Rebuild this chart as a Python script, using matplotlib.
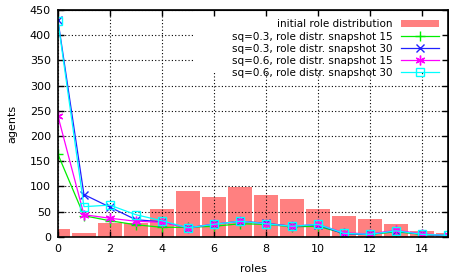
import matplotlib
matplotlib.use('Agg')
from matplotlib import pyplot as plt
from matplotlib.patches import Rectangle

# data
roles = list(range(16))
initial = [16, 8, 28, 27, 55, 91, 79, 99, 83, 75, 55, 41, 36, 26, 12, 8]
sq03_s15 = [164, 42, 32, 24, 19, 19, 21, 26, 25, 20, 21, 7, 5, 10, 5, 3]
sq03_s30 = [430, 84, 59, 34, 30, 18, 25, 31, 27, 21, 24, 6, 5, 12, 5, 2]
sq06_s15 = [240, 44, 37, 31, 29, 18, 25, 31, 26, 21, 25, 8, 6, 13, 6, 3]
sq06_s30 = [428, 60, 63, 44, 32, 18, 25, 31, 26, 21, 25, 7, 5, 12, 5, 3]

plt.rcParams['font.size'] = 8

f = plt.figure(figsize=(4.49, 2.8), dpi=100)
ax = f.add_axes([0.129, 0.154, 0.869, 0.81])
ax.set_axisbelow(False)

ax.bar(roles, initial, width=0.95, color='#ff8080', lw=0,
       label='initial role distribution', zorder=1)
ax.plot(roles, sq03_s15, color='#00ee00', marker='+', ms=7, mew=1, lw=0.9,
        label='sq=0.3, role distr. snapshot 15', zorder=3)
ax.plot(roles, sq03_s30, color='#2020ff', marker='x', ms=5.5, mew=1, lw=0.9,
        label='sq=0.3, role distr. snapshot 30', zorder=3)
ax.plot(roles, sq06_s15, color='#ff00ff', marker=(6, 2, 0), ms=7, mew=1,
        lw=0.9, label='sq=0.6, role distr. snapshot 15', zorder=3)
ax.plot(roles, sq06_s30, color='#00ffff', marker='s', ms=5.5, mfc='none',
        mew=1, lw=0.9, label='sq=0.6, role distr. snapshot 30', zorder=3)

ax.set_xlim(0, 15)
ax.set_ylim(0, 450)
ax.set_xticks(range(0, 15, 2))
ax.set_yticks(range(0, 451, 50))
ax.tick_params(direction='in', length=4, width=1, pad=5)
ax.grid(True, color='black', linestyle=(0, (1, 2)), lw=0.8)
for s in ax.spines.values():
    s.set_linewidth(1.2)
    s.set_zorder(4)
ax.set_xlabel('roles', labelpad=7)
ax.set_ylabel('agents', labelpad=9)

# mirrored ticks on top and right, kept above the key area
top = ax.secondary_xaxis('top')
top.set_xticks(range(0, 15, 2))
top.tick_params(direction='in', length=4, width=1, labeltop=False)
top.set_zorder(4)
right = ax.secondary_yaxis('right')
right.set_yticks(range(0, 451, 50))
right.tick_params(direction='in', length=4, width=1, labelright=False)
right.set_zorder(4)

# white key area hides the grid behind the legend
ax.add_patch(Rectangle((0.348, 0.722), 0.652, 0.278, transform=ax.transAxes,
                       color='white', lw=0, zorder=2.7))

handles, labels = ax.get_legend_handles_labels()
order = [4, 0, 1, 2, 3]
leg = ax.legend([handles[i] for i in order], [labels[i] for i in order],
                loc='upper right', frameon=False, markerfirst=False,
                handlelength=3.6, borderaxespad=0.8, labelspacing=0.2,
                borderpad=0.1, fontsize=7.5)
leg.set_zorder(5)

plt.savefig('out.png', dpi=100)
